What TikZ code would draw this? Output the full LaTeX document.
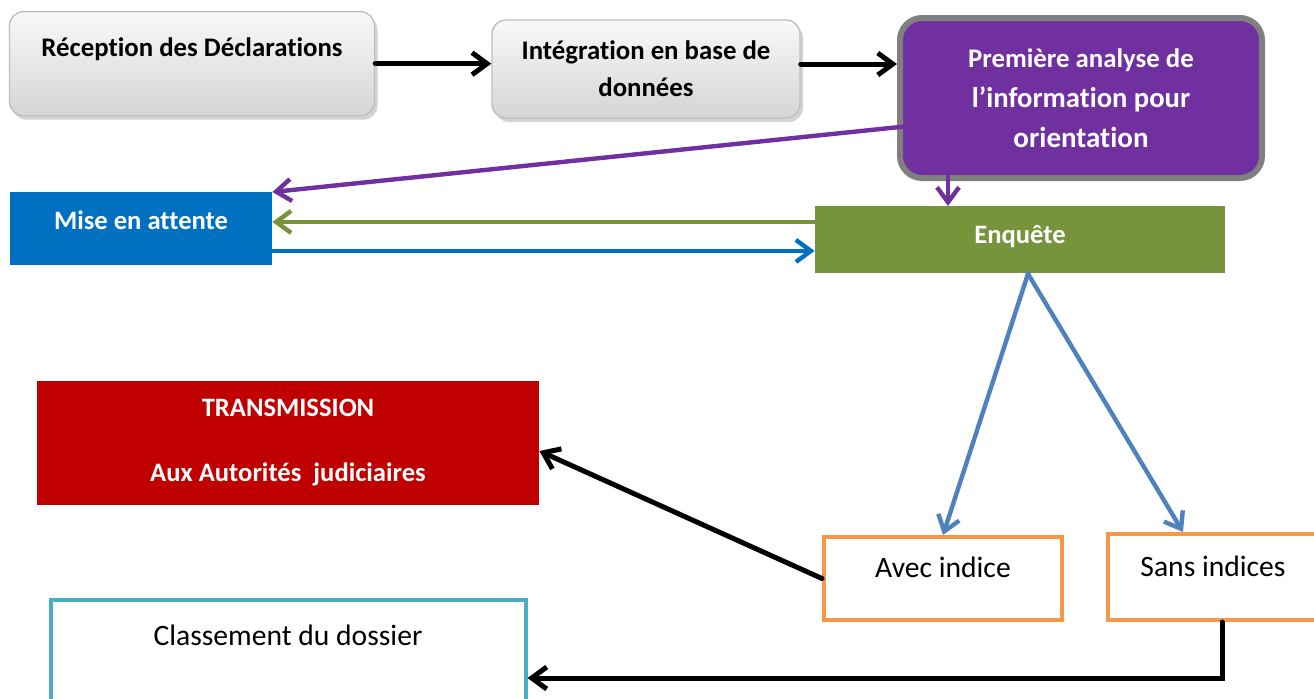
\documentclass[tikz,border=0pt]{standalone}
\usepackage{fontspec}
\setmainfont[Ligatures=NoCommon]{Carlito}
\usepackage{tikz}
\usetikzlibrary{arrows.meta,shapes,shadows}
\definecolor{analysepurple}{HTML}{7030A0}
\definecolor{attenteblue}{HTML}{0070C0}
\definecolor{enquetegreen}{HTML}{77933C}
\definecolor{transmred}{HTML}{C00000}
\definecolor{indiceorange}{HTML}{F79646}
\definecolor{classecyan}{HTML}{4BACC6}
\definecolor{branchblue}{HTML}{4F81BD}
\tikzstyle{greybox}=[rectangle, rounded corners=7pt, draw=gray!50
%,fill=gray!20
,line width=0.7pt, top color=gray!5, bottom color=gray!33
,drop shadow={shadow xshift=1.5pt, shadow yshift=-2pt, opacity=0.35}
,align=center, font=\bfseries\fontsize{13.4}{18.5}\selectfont
]
\tikzstyle{analysebox}=[rectangle, rounded corners=11pt, draw=gray, line width=3pt, fill=analysepurple
,text=white, align=center, font=\bfseries\fontsize{13.4}{20}\selectfont
]
\tikzstyle{flatbox}=[rectangle, inner ysep=0pt, text=white, font=\bfseries\fontsize{13.3}{16}\selectfont]
\tikzstyle{outlinebox}=[rectangle, inner ysep=0pt, line width=2pt, fill=white, font=\fontsize{14.8}{17}\selectfont]
\tikzstyle{flowarrow} = [draw, line width=2.2pt, line cap=round, -{Straight Barb[length=7.5pt, width=11pt]}]

\begin{document}
\begin{tikzpicture}[x=0.5pt, y=-0.5pt]
    % Page frame of the chart
    \useasboundingbox (0,0) rectangle (1314,698);

    % First we draw the boxes of the top row
    \node[greybox, anchor=north, minimum width=182.5pt, inner ysep=0pt, text height=22.5pt, text depth=29.5pt] (recep) at (192,11) {Réception des Déclarations};
    \node[greybox, minimum width=154pt, minimum height=49pt] (integ) at (646,69) {Intégration en base de\\données};
    \node[analysebox, minimum width=181pt, minimum height=80pt] (analyse) at (1081,98) {Première analyse de\\\fontsize{14.3}{20}\selectfont l’information pour\\\fontsize{14.5}{20}\selectfont orientation};

    % Then the waiting box and the inquiry
    \node[flatbox, fill=attenteblue, anchor=north, minimum width=131pt, text height=18.5pt, text depth=18pt] (attente) at (141,192) {Mise en attente};
    \node[flatbox, fill=enquetegreen, anchor=north, minimum width=205pt, text height=18.5pt, text depth=15pt] (enquete) at (1020,206) {Enquête};

    % Outcomes of the inquiry
    \node[flatbox, fill=transmred, minimum width=251pt, minimum height=62pt, align=center, font=\bfseries\fontsize{13.3}{32.5}\selectfont] (transm) at (288,443) {TRANSMISSION\\Aux Autorités\ \ judiciaires};
    \node[outlinebox, draw=indiceorange, anchor=north, minimum width=119pt, text height=20pt, text depth=21.5pt] (avec) at (943,535) {Avec indice};
    \node[outlinebox, draw=indiceorange, anchor=north, minimum width=105pt, text height=21pt, text depth=22pt] (sans) at (1213,532) {Sans indices};
    \node[outlinebox, draw=classecyan, anchor=north, minimum width=237.5pt, text height=22.5pt, text depth=38.5pt] (classe) at (288,598) {Classement du dossier};

    % Connect the top row
    \draw[flowarrow, black, line width=2.5pt] (recep.east) -- (recep.east -| integ.west);
    \draw[flowarrow, black, line width=2.5pt] ([yshift=2.5pt]integ.east) -- ([yshift=2.5pt]integ.east -| analyse.west);

    % Orientation from the first analysis
    \coordinate (split) at (948,122);
    \draw[flowarrow, analysepurple] (split) -- (attente.north east);
    \draw[flowarrow, analysepurple] (split) -- (split |- enquete.north);

    % Back and forth between waiting and inquiry
    \draw[flowarrow, enquetegreen] ([yshift=9pt]enquete.west) -- ([yshift=9pt]enquete.west -| attente.east);
    \draw[flowarrow, attenteblue] ([yshift=-11pt]attente.east) -- ([yshift=-11pt]attente.east -| enquete.west);

    % Branches of the inquiry
    \foreach \dest/\shift in {avec/0pt, sans/-15pt}
        \draw[flowarrow, branchblue] ([xshift=4pt]enquete.south) -- ([xshift=\shift]\dest.north);

    % Final decisions
    \draw[flowarrow, black, line width=2.5pt] (avec.west) -- ([yshift=-4pt]transm.east);
    \draw[flowarrow, black, line width=2.5pt] ([xshift=4.5pt]sans.south) |- ([yshift=-8.5pt]classe.east);
\end{tikzpicture}
\end{document}
